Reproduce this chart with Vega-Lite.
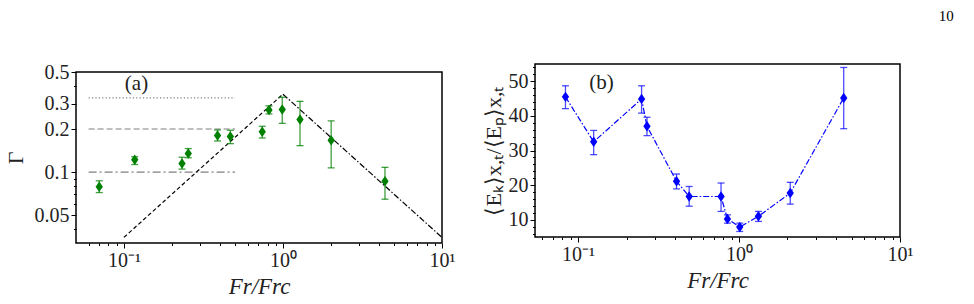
{
  "$schema": "https://vega.github.io/schema/vega-lite/v6.json",
  "background": "white",
  "padding": {"left": 3, "top": 8, "right": 0, "bottom": 0},
  "title": {"text": "10", "anchor": "end", "fontSize": 15, "fontWeight": "normal", "font": "Liberation Serif", "color": "black", "offset": 33, "dx": 40},
  "columns": 2,
  "align": "none",
  "spacing": 25,
  "datasets": {
    "gamma": [
      {"fr": 0.070, "g": 0.079, "lo": 0.072, "hi": 0.087},
      {"fr": 0.117, "g": 0.122, "lo": 0.113, "hi": 0.128},
      {"fr": 0.232, "g": 0.115, "lo": 0.105, "hi": 0.127},
      {"fr": 0.254, "g": 0.135, "lo": 0.126, "hi": 0.146},
      {"fr": 0.388, "g": 0.180, "lo": 0.165, "hi": 0.197},
      {"fr": 0.467, "g": 0.177, "lo": 0.158, "hi": 0.196},
      {"fr": 0.741, "g": 0.191, "lo": 0.173, "hi": 0.209},
      {"fr": 0.817, "g": 0.271, "lo": 0.255, "hi": 0.290},
      {"fr": 0.99, "g": 0.274, "lo": 0.219, "hi": 0.333},
      {"fr": 1.28, "g": 0.233, "lo": 0.153, "hi": 0.312},
      {"fr": 2.01, "g": 0.167, "lo": 0.107, "hi": 0.228},
      {"fr": 4.38, "g": 0.0865, "lo": 0.0647, "hi": 0.108}
    ],
    "levels": [
      {"kind": "dotted", "g": 0.33, "fr": 0.06, "fr2": 0.5},
      {"kind": "dashed", "g": 0.2, "fr": 0.06, "fr2": 0.5},
      {"kind": "dashdot", "g": 0.1, "fr": 0.06, "fr2": 0.5}
    ],
    "scaling": [
      {"fr": 0.1, "g": 0.035, "branch": "rise"},
      {"fr": 1, "g": 0.35, "branch": "rise"},
      {"fr": 1, "g": 0.35, "branch": "fall"},
      {"fr": 10, "g": 0.035, "branch": "fall"}
    ],
    "ratio": [
      {"fr": 0.0835, "r": 45.5, "lo": 42.1, "hi": 48.7},
      {"fr": 0.125, "r": 32.5, "lo": 28.8, "hi": 35.8},
      {"fr": 0.248, "r": 44.9, "lo": 40.8, "hi": 48.7},
      {"fr": 0.268, "r": 37.0, "lo": 34.3, "hi": 39.6},
      {"fr": 0.409, "r": 21.1, "lo": 18.9, "hi": 23.2},
      {"fr": 0.49, "r": 16.7, "lo": 13.9, "hi": 19.6},
      {"fr": 0.773, "r": 16.7, "lo": 12.4, "hi": 20.6},
      {"fr": 0.847, "r": 10.2, "lo": 9.0, "hi": 11.4},
      {"fr": 1.01, "r": 7.9, "lo": 6.6, "hi": 9.0},
      {"fr": 1.32, "r": 11.0, "lo": 9.5, "hi": 12.4},
      {"fr": 2.08, "r": 17.7, "lo": 14.5, "hi": 20.8},
      {"fr": 4.47, "r": 45.2, "lo": 36.3, "hi": 54.0}
    ]
  },
  "concat": [
    {
      "vconcat": [
        {
          "width": 366,
          "height": 1,
          "data": {"values": []},
          "mark": "point",
          "view": {"stroke": null}
        },
        {
          "width": 366,
          "height": 171,
          "encoding": {
            "x": {
              "field": "fr", "type": "quantitative",
              "scale": {"type": "log", "domain": [0.05, 10], "nice": false},
              "axis": {
                "values": [0.06, 0.07, 0.08, 0.09, 0.1, 0.2, 0.3, 0.4, 0.5, 0.6, 0.7, 0.8, 0.9, 1, 2, 3, 4, 5, 6, 7, 8, 9, 10],
                "labelExpr": "datum.value == 0.1 ? '10⁻¹' : datum.value == 1 ? '10⁰' : datum.value == 10 ? '10¹' : ''",
                "tickSize": {"condition": {"test": "datum.value == 0.1 || datum.value == 1 || datum.value == 10", "value": 5}, "value": 2.5},
                "title": "Fr/Frc",
                "titleFontStyle": "italic",
                "titleFontSize": 23,
                "titlePadding": 5
              }
            },
            "y": {
              "field": "g", "type": "quantitative",
              "scale": {"type": "log", "domain": [0.032, 0.5], "nice": false},
              "axis": {
                "values": [0.04, 0.05, 0.06, 0.07, 0.08, 0.09, 0.1, 0.2, 0.3, 0.4, 0.5],
                "format": "~g",
                "labelExpr": "indexof([0.05, 0.1, 0.2, 0.3, 0.5], datum.value) >= 0 ? datum.label : ''",
                "tickSize": {"condition": {"test": "indexof([0.05, 0.1, 0.2, 0.3, 0.5], datum.value) >= 0", "value": 5}, "value": 2.5},
                "title": "Γ",
                "titleFontSize": 22,
                "titlePadding": 7
              }
            }
          },
          "layer": [
            {
              "data": {"name": "levels"},
              "mark": {"type": "rule", "color": "#808080", "strokeWidth": 1.2},
              "encoding": {
                "x2": {"field": "fr2"},
                "strokeDash": {"field": "kind", "type": "nominal", "scale": {"domain": ["dotted", "dashed", "dashdot"], "range": [[1.2, 2.2], [6, 3], [8, 3, 2, 3]]}, "legend": null}
              }
            },
            {
              "data": {"name": "scaling"},
              "mark": {"type": "line", "color": "black", "strokeWidth": 1.2},
              "encoding": {
                "strokeDash": {"field": "branch", "type": "nominal", "scale": {"domain": ["rise", "fall"], "range": [[4, 2.5], [6, 2, 1.5, 2]]}, "legend": null}
              }
            },
            {
              "data": {"name": "gamma"},
              "mark": {"type": "errorbar", "ticks": {"size": 7}, "thickness": 1.3, "color": "#008000", "opacity": 0.75},
              "encoding": {
                "y": {"field": "lo", "type": "quantitative", "scale": {"type": "log", "domain": [0.032, 0.5], "nice": false}, "title": "Γ"},
                "y2": {"field": "hi"}
              }
            },
            {
              "data": {"name": "gamma"},
              "mark": {"type": "point", "shape": "M0,-1L0.7,0L0,1L-0.7,0Z", "filled": true, "size": 110, "color": "#008000", "opacity": 1}
            },
            {
              "data": {"values": [{"fr": 0.12, "g": 0.415, "tag": "(a)"}]},
              "mark": {"type": "text", "fontSize": 21, "align": "center", "baseline": "middle", "color": "#222222"},
              "encoding": {"text": {"field": "tag"}}
            }
          ],
          "resolve": {"scale": {"strokeDash": "independent"}}
        }
      ],
      "spacing": 7,
      "bounds": "flush"
    },
    {
      "width": 365,
      "height": 173,
      "encoding": {
        "x": {
          "field": "fr", "type": "quantitative",
          "scale": {"type": "log", "domain": [0.054, 10], "nice": false},
          "axis": {
            "values": [0.06, 0.07, 0.08, 0.09, 0.1, 0.2, 0.3, 0.4, 0.5, 0.6, 0.7, 0.8, 0.9, 1, 2, 3, 4, 5, 6, 7, 8, 9, 10],
            "labelExpr": "datum.value == 0.1 ? '10⁻¹' : datum.value == 1 ? '10⁰' : datum.value == 10 ? '10¹' : ''",
            "tickSize": {"condition": {"test": "datum.value == 0.1 || datum.value == 1 || datum.value == 10", "value": 5}, "value": 2.5},
            "title": "Fr/Frc",
            "titleFontStyle": "italic",
            "titleFontSize": 23,
            "titlePadding": 5
          }
        },
        "y": {
          "field": "r", "type": "quantitative",
          "scale": {"domain": [5, 55], "nice": false, "zero": false},
          "axis": {
            "values": [6, 8, 10, 12, 14, 16, 18, 20, 22, 24, 26, 28, 30, 32, 34, 36, 38, 40, 42, 44, 46, 48, 50, 52, 54],
            "labelExpr": "datum.value % 10 == 0 ? datum.label : ''",
            "tickSize": {"condition": {"test": "datum.value % 10 == 0", "value": 5}, "value": 2.5},
            "title": "⟨Eₖ⟩x,ₜ/⟨Eₚ⟩x,ₜ",
            "titleFontSize": 22,
            "titlePadding": 3
          }
        }
      },
      "layer": [
        {
          "data": {"name": "ratio"},
          "mark": {"type": "line", "color": "#0000ff", "strokeWidth": 1.2, "strokeDash": [6, 2, 1.5, 2]}
        },
        {
          "data": {"name": "ratio"},
          "mark": {"type": "errorbar", "ticks": {"size": 7}, "thickness": 1.3, "color": "#0000ff", "opacity": 0.7},
          "encoding": {
            "y": {"field": "lo", "type": "quantitative", "scale": {"domain": [5, 55], "nice": false, "zero": false}, "title": "⟨Eₖ⟩x,ₜ/⟨Eₚ⟩x,ₜ"},
            "y2": {"field": "hi"}
          }
        },
        {
          "data": {"name": "ratio"},
          "mark": {"type": "point", "shape": "M0,-1L0.7,0L0,1L-0.7,0Z", "filled": true, "size": 110, "color": "#0000ff", "opacity": 1}
        },
        {
          "data": {"values": [{"fr": 0.14, "r": 49.5, "tag": "(b)"}]},
          "mark": {"type": "text", "fontSize": 21, "align": "center", "baseline": "middle", "color": "#222222"},
          "encoding": {"text": {"field": "tag"}}
        }
      ]
    }
  ],
  "config": {
    "font": "Liberation Serif",
    "view": {"stroke": "black", "strokeWidth": 1.5},
    "axis": {
      "domain": false,
      "grid": false,
      "ticks": true,
      "tickColor": "black",
      "tickWidth": 1,
      "labelColor": "#222222",
      "labelFont": "Liberation Serif",
      "labelFontSize": 20,
      "labelPadding": 2,
      "labelFlush": false,
      "labelOverlap": false,
      "titleColor": "#222222",
      "titleFont": "Liberation Serif",
      "titleFontWeight": "normal"
    }
  }
}
